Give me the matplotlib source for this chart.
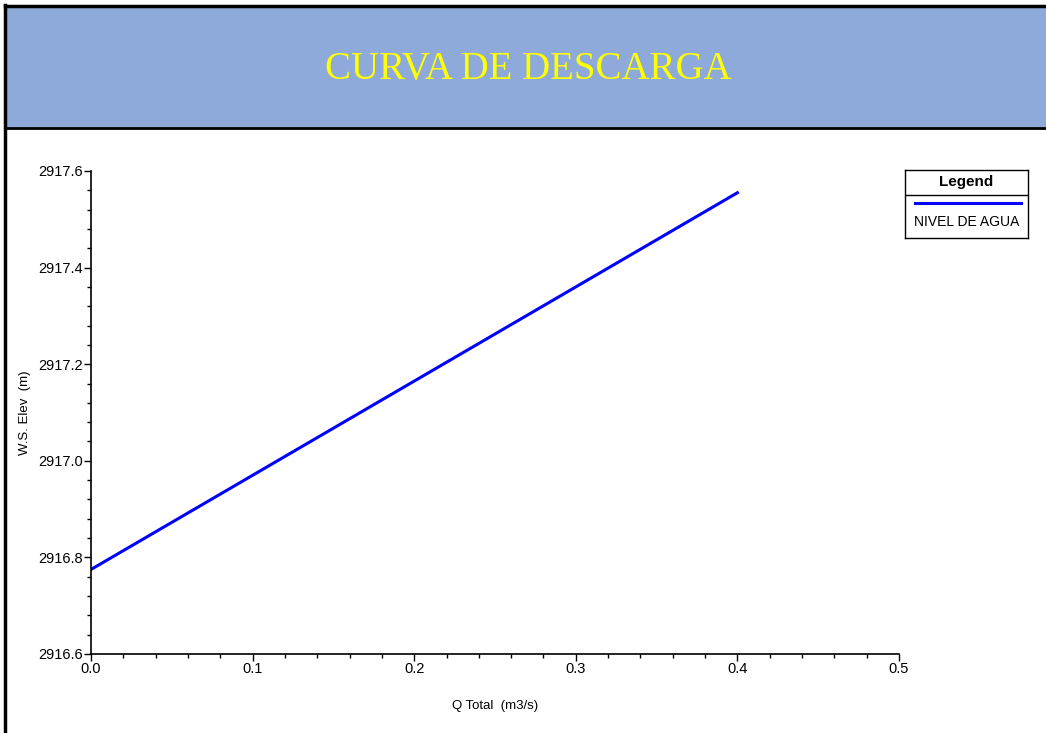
import numpy as np
import matplotlib.pyplot as plt
from matplotlib.patches import Rectangle
from matplotlib.lines import Line2D
from matplotlib.ticker import MultipleLocator, FormatStrFormatter

# datos de la curva de descarga
q_total = [0.0, 0.1, 0.2, 0.3, 0.4]
ws_elev = [2916.775, 2916.970, 2917.165, 2917.360, 2917.555]
serie = 'NIVEL DE AGUA'
titulo = 'CURVA DE DESCARGA'

W, H = 1046, 733
fig = plt.figure(figsize=(W / 100, H / 100), dpi=100)
plt.rcParams['font.family'] = ['Liberation Sans', 'DejaVu Sans']


def fx(px):
    return px / W


def fy(py):
    return 1 - py / H


# encabezado azul
fig.patches.append(Rectangle((fx(6), fy(128)), fx(1046 - 6), fy(7) - fy(128),
                             transform=fig.transFigure, facecolor='#8eaadb', edgecolor='none'))
fig.add_artist(Line2D([fx(5), fx(5)], [fy(5), 0], transform=fig.transFigure, color='black', lw=2.5))
fig.add_artist(Line2D([fx(5), 1], [fy(6), fy(6)], transform=fig.transFigure, color='black', lw=2.5))
fig.add_artist(Line2D([fx(5), 1], [fy(128), fy(128)], transform=fig.transFigure, color='black', lw=2))
fig.text(fx(528), fy(69), titulo, color='#ffff00', fontsize=28, family='Liberation Serif',
         ha='center', va='center', fontstretch='condensed')

# grafico
ax = fig.add_axes([fx(91), fy(654), fx(899 - 91), fy(171) - fy(654)])
ax.plot(q_total, ws_elev, color='#0000ff', lw=2.2)
ax.set_xlim(0, 0.5)
ax.set_ylim(2916.6, 2917.6)
ax.xaxis.set_major_locator(MultipleLocator(0.1))
ax.xaxis.set_minor_locator(MultipleLocator(0.02))
ax.yaxis.set_major_locator(MultipleLocator(0.2))
ax.yaxis.set_minor_locator(MultipleLocator(0.04))
ax.xaxis.set_major_formatter(FormatStrFormatter('%.1f'))
ax.yaxis.set_major_formatter(FormatStrFormatter('%.1f'))
for s in ['top', 'right']:
    ax.spines[s].set_visible(False)
for s in ['left', 'bottom']:
    ax.spines[s].set_linewidth(1.2)
ax.tick_params(which='major', length=5, width=1, labelsize=10.5, pad=1, color='black')
ax.tick_params(which='minor', length=3, width=1)
ax.set_xlabel('Q Total  (m3/s)', fontsize=9.5, labelpad=17)
ax.set_ylabel('W.S. Elev  (m)', fontsize=9.5, labelpad=5)

# leyenda
lg = fig.add_axes([fx(905), fy(238), fx(1028 - 905), fy(170) - fy(238)])
lg.set_xlim(0, 1)
lg.set_ylim(0, 1)
lg.set_xticks([])
lg.set_yticks([])
for s in lg.spines.values():
    s.set_linewidth(1)
lg.axhline(1 - 25 / 68, color='black', lw=1)
lg.text(0.5, 1 - 12 / 68, 'Legend', ha='center', va='center', fontsize=11, fontweight='bold')
lg.plot([0.08, 0.94], [1 - 33 / 68] * 2, color='#0000ff', lw=2.2)
lg.text(0.5, 1 - 52 / 68, serie, ha='center', va='center', fontsize=10)

fig.savefig('out.png', dpi=100)
